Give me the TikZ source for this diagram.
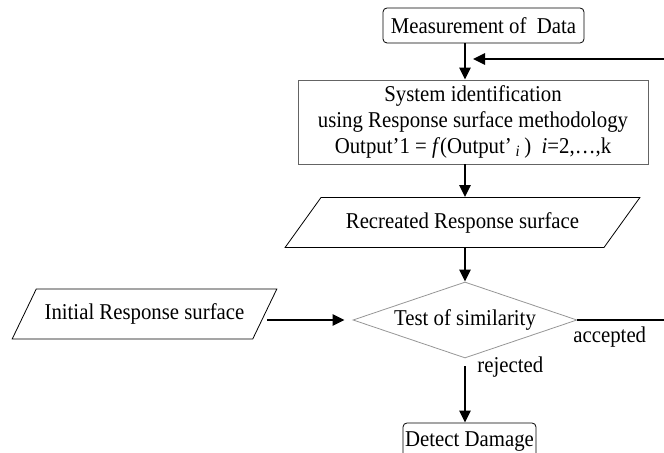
\documentclass[tikz,border=0pt]{standalone}
\usepackage{fontspec}
\setmainfont[FakeStretch=0.92]{Liberation Serif}
\usetikzlibrary{positioning, arrows.meta, calc, shapes.geometric}
\definecolor{boxgray}{RGB}{100,100,100}
\definecolor{testgray}{RGB}{150,150,150}

\begin{document}
\begin{tikzpicture}[x=0.5pt, y=-0.5pt, font=\fontsize{11.3}{13}\selectfont,
        >={Triangle[length=6pt, width=5.5pt]},
        every node/.style={inner sep=0pt},
        flow/.style={->, line width=1.3pt},
        endbox/.style={draw, rounded corners=2pt, thin},
        databox/.style={trapezium, trapezium stretches=true, draw, thin,
          minimum height=25pt}]
      \useasboundingbox (0,0) rectangle (664,453);
      \node[endbox, minimum width=100.5pt, minimum height=17.5pt] (meas) at (483.5,25.5) {Measurement of \ Data};
      \node[draw=boxgray, thin, align=center, minimum width=175pt, minimum height=42pt] (sysid) at (473,122)
        {System identification\\using Response surface methodology\\Output’1 = \textit{f}(Output’\,\textsubscript{\textit{i}}\,) \ \textit{i}=2,…,k};
      \node[databox, trapezium left angle=35, trapezium right angle=145, minimum width=177.5pt] (recr) at (462.5,222.5) {Recreated Response surface};
      \node[databox, trapezium left angle=43, trapezium right angle=137, minimum width=132.5pt] (init) at (144.5,314) {Initial Response surface};
      \node[diamond, draw=testgray, thin, aspect=2.95, minimum width=112pt, minimum height=38pt] (test) at (465,320) {Test of similarity};
      \node[endbox, minimum width=66.5pt, minimum height=19pt] (dmg) at (469.5,442) {Detect Damage};
      \node[anchor=north west] (acc) at (573,326) {accepted};
      \node[anchor=north west] (rej) at (477,356) {rejected};
      \coordinate (loopout) at (664,59);
      \coordinate (looptip) at (473,59);
      \coordinate (accout) at (664,320);
      \draw[flow] (meas.south -| test.north) -- (sysid.north -| test.north);
      \draw[flow] (loopout) -- (looptip);
      \draw[flow] (sysid.south -| test.north) -- (recr.north -| test.north);
      \draw[flow] (recr.south -| test.north) -- (test.north);
      \draw[flow, shorten <=1pt, shorten >=4pt] (init.east |- test.west) -- (test.west);
      \draw[line width=1.3pt] (test.east) -- (accout);
      \draw[flow, shorten <=4pt] (test.south) -- (test.south |- dmg.north);
    \end{tikzpicture}
\end{document}
